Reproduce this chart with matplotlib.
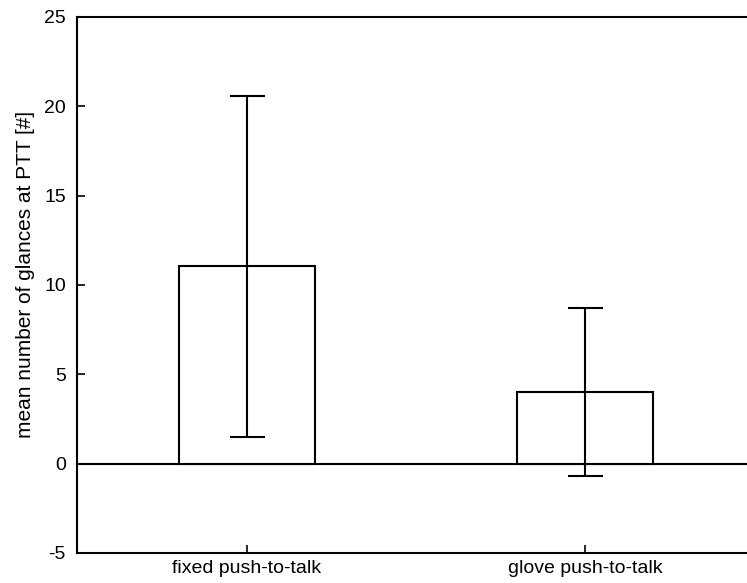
import numpy as np
import matplotlib.pyplot as plt

plt.rcParams['font.family'] = ['Liberation Sans', 'DejaVu Sans']

# data
categories = ["fixed push-to-talk", "glove push-to-talk"]
means = [11.05, 4.0]
errors = [9.55, 4.7]
yticks = [-5, 0, 5, 10, 15, 20, 25]

fig = plt.figure(figsize=(7.47, 5.83), dpi=100)
ax = fig.add_axes([0.103, 0.0515, 0.897, 0.9194])

x = np.arange(1, len(categories) + 1)
ax.bar(x, means, width=0.4, color="white", edgecolor="black", linewidth=1.5, zorder=2)
ax.errorbar(x, means, yerr=errors, fmt="none", ecolor="black", elinewidth=1.5,
            capsize=12.6, capthick=1.5, zorder=3)
ax.axhline(0, color="black", linewidth=1.5, zorder=1)

ax.set_xlim(0.497, 2.479)
ax.set_ylim(-5, 25)
ax.set_xticks(x)
ax.set_xticklabels(categories, fontsize=14)
ax.set_yticks(yticks)
ax.set_yticklabels([str(t) for t in yticks], fontsize=14)
ax.set_ylabel("mean number of glances at PTT [#]", fontsize=15)
ax.yaxis.set_label_coords(-0.063, 0.52)

ax.tick_params(direction="in", length=6, width=1.2, top=False, right=False)
ax.tick_params(axis="y", pad=8)
ax.tick_params(axis="x", pad=5)
for side in ["left", "bottom", "top"]:
    ax.spines[side].set_linewidth(1.5)
ax.spines["right"].set_visible(False)

fig.savefig("out.png", dpi=100)
